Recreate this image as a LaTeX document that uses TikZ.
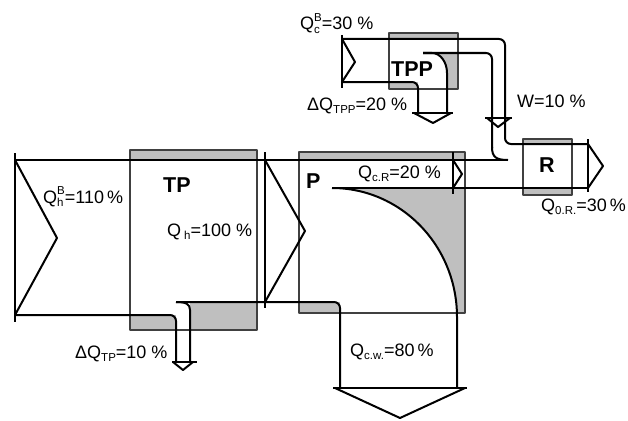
\documentclass[tikz,border=0pt]{standalone}
\usepackage{fontspec}
\setmainfont{Liberation Sans}
\newcommand{\Qsb}[1]{Q\raisebox{-0.35ex}{\fontsize{11.5}{11.5}\selectfont #1}}
\newcommand{\Qsbsp}[2]{Q\rlap{\raisebox{-0.35ex}{\fontsize{11.5}{11.5}\selectfont #1}}\raisebox{0.85ex}{\fontsize{11.5}{11.5}\selectfont #2}}
\begin{document}
\begin{tikzpicture}[x=1pt,y=-1pt,line join=round]
\tikzset{
  flow/.style={line width=2pt},
  barline/.style={line width=2.6pt},
  boxline/.style={draw=black!75,line width=1.1pt},
  shade/.style={fill=black!25},
  lbl/.style={font=\fontsize{18}{21}\selectfont,inner sep=0pt,anchor=base west},
  blbl/.style={font=\fontsize{21.5}{24}\selectfont\bfseries,inner sep=0pt,anchor=base west}
}
\useasboundingbox (0,0) rectangle (628,420);
% ---- grey fills ----
% TP
\fill[shade] (130,150) rectangle (257,160);
\fill[shade] (130,315) rectangle (176,330);
\fill[shade] (190,302) rectangle (257,330);
% P
\fill[shade] (299,152) rectangle (465,160);
\fill[shade] (299,302) rectangle (340,313);
\fill[shade] (465,188) -- (465,313) -- (457,313) -- (457,317)
   arc[start angle=0,end angle=-90,x radius=125,y radius=129] -- cycle;
% TPP
\fill[shade] (389,33) rectangle (458,39);
\fill[shade] (389,82) rectangle (418,89);
\fill[shade] (432,53) -- (458,53) -- (458,89) -- (447,89) -- (447,73)
   arc[start angle=0,end angle=-90,x radius=15,y radius=20] -- cycle;
% R
\fill[shade] (523,139) rectangle (572,144);
\fill[shade] (523,188) rectangle (572,195);
% ---- boxes ----
\draw[boxline] (130,150) rectangle (257,330);
\draw[boxline] (299,152) rectangle (465,313);
\draw[boxline] (389,33) rectangle (458,89);
\draw[boxline] (523,139) rectangle (572,195);
% ---- stream lines ----
\draw[flow] (15,160) -- (508,160);
\draw[flow,rounded corners=6] (15,315) -- (176,315) -- (176,362);
\draw[flow] (190,362) -- (190,310) .. controls (190,304) and (186,302) .. (176,302);
\draw[flow,rounded corners=6] (176,302) -- (340,302) -- (340,388);
\draw[flow] (332,188) arc[start angle=-90,end angle=0,x radius=125,y radius=129] -- (457,388);
\draw[flow] (332,188) -- (588,188);
\draw[flow,rounded corners=6] (342,39) -- (505,39) -- (505,144) -- (588,144);
\draw[flow,rounded corners=6] (423,53) -- (492,53) -- (492,148);
\draw[flow] (492,147) .. controls (492,157) and (496,160) .. (508,160);
\draw[flow] (423,53) -- (432,53) arc[start angle=-90,end angle=0,x radius=15,y radius=20] -- (447,113);
\draw[flow,rounded corners=6] (342,82) -- (418,82) -- (418,113);
% ---- input/output chevrons ----
\draw[barline] (15,153) -- (15,322);
\draw[flow] (15,160) -- (57,238) -- (15,315);
\draw[barline] (265,152) -- (265,308);
\draw[flow] (265,160) -- (305,231) -- (265,302);
\draw[barline] (453,152) -- (453,194);
\draw[flow] (453,160) -- (462,174) -- (453,188);
\draw[barline] (342,35) -- (342,88);
\draw[flow] (342,39) -- (355,62) -- (342,82);
\draw[barline] (588,139) -- (588,192);
\draw[flow] (588,144) -- (603,166) -- (588,188);
% ---- down arrows ----
\draw[flow] (412,113) -- (453,113);
\draw[flow] (414,113) -- (433,123) -- (451,113);
\draw[flow] (485,118) -- (512,118);
\draw[flow] (487,118) -- (498,127) -- (510,118);
\draw[flow] (172,362) -- (197,362);
\draw[flow] (173,362) -- (183,370) -- (193,362);
\draw[flow] (333,388) -- (467,388);
\draw[flow] (335,388) -- (400,418) -- (465,388);
% ---- labels ----
\node[blbl] (tp) at (163,192) {TP};
\node[blbl] (p) at (306,188) {P};
\node[blbl] (tpp) at (391,76) {TPP};
\node[blbl] (r) at (539,172) {R};
\node[lbl] (qhb) at (43,203) {\Qsbsp{h}{B}=110\,\%};
\node[lbl] (qh) at (167,236) {Q\,\raisebox{-0.35ex}{\fontsize{11.5}{11.5}\selectfont h}=100 \%};
\node[lbl] (dqtp) at (75,358) {Δ\Qsb{TP}=10 \%};
\node[lbl] (qcr) at (358,178) {\Qsb{c.R}=20 \%};
\node[lbl] (qcw) at (350,356) {\Qsb{c.w.}=80\,\%};
\node[lbl] (qcb) at (300,30) {\Qsbsp{c}{B}=30 \%};
\node[lbl] (dqtpp) at (307,110) {Δ\Qsb{TPP}=20 \%};
\node[lbl] (w) at (517,107) {W=10 \%};
\node[lbl] (q0r) at (541,211) {\Qsb{0.R.}=30\,\%};
\end{tikzpicture}
\end{document}
